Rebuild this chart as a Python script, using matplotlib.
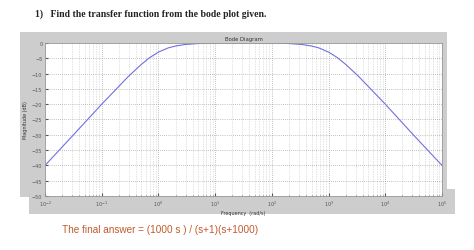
import numpy as np
import matplotlib
matplotlib.use("Agg")
import matplotlib.pyplot as plt
from matplotlib.patches import Rectangle
from matplotlib.ticker import FixedLocator, LogLocator, LogFormatterMathtext, NullFormatter

# values
freq = [0.01, 0.03, 0.1, 0.2, 0.3, 0.5, 0.7, 1, 1.5, 2, 3, 5, 10,
        100, 200, 333, 500, 667, 1000, 1430, 2000, 3330, 5000, 10000, 33000, 100000]
mag_db = [-40, -30.5, -20, -14.2, -10.8, -7, -4.8, -3, -1.6, -1, -0.5, -0.2, 0,
          0, -0.2, -0.5, -1, -1.6, -3, -4.8, -7, -10.8, -14.2, -20, -30.5, -40]
x_ticks = [1e-2, 1e-1, 1e0, 1e1, 1e2, 1e3, 1e4, 1e5]
y_ticks = [0, -5, -10, -15, -20, -25, -30, -35, -40, -45, -50]

fig = plt.figure(figsize=(4.74, 2.51), dpi=100)
fig.patch.set_facecolor("white")

gray = "#cdcdcd"
fig.patches.append(Rectangle((0.061, 0.143), 0.899, 0.10, transform=fig.transFigure,
                             facecolor=gray, edgecolor="none", zorder=-2))
fig.patches.append(Rectangle((0.042, 0.211), 0.901, 0.657, transform=fig.transFigure,
                             facecolor=gray, edgecolor="none", zorder=-2))

ax = fig.add_axes([0.095, 0.215, 0.8375, 0.61])
ax.set_zorder(1)
ax.plot(freq, mag_db, color="#7070e0", lw=0.8)
ax.set_xscale("log")
ax.set_xlim(1e-2, 1e5)
ax.set_ylim(-50, 0)
ax.set_yticks(y_ticks)
ax.xaxis.set_major_locator(FixedLocator(x_ticks))
ax.xaxis.set_minor_locator(LogLocator(base=10, subs=np.arange(2, 10), numticks=100))
ax.xaxis.set_major_formatter(LogFormatterMathtext())
ax.xaxis.set_minor_formatter(NullFormatter())
ax.grid(True, which="major", linestyle=(0, (1, 2)), color="#888888", lw=0.5)
ax.grid(True, which="minor", axis="x", linestyle=(0, (1, 2)), color="#aaaaaa", lw=0.4)
ax.tick_params(which="both", direction="in", labelsize=3.5, length=2, pad=2,
               colors="#555555")
ax.tick_params(which="minor", length=1)
for s in ax.spines.values():
    s.set_color("#999999")
    s.set_linewidth(0.6)

ax.set_title("Bode Diagram", fontsize=3.8, pad=2, color="#333333")
ax.set_xlabel("Frequency  (rad/s)", fontsize=3.5, labelpad=1, color="#333333")
ax.set_ylabel("Magnitude (dB)", fontsize=3.5, labelpad=3, color="#333333")

fig.text(0.074, 0.945, "1)   Find the transfer function from the bode plot given.",
         family="Liberation Serif", fontweight="bold", fontsize=7.0,
         va="center", ha="left", color="#222222")
fig.text(0.131, 0.084, "The final answer = (1000 s ) / (s+1)(s+1000)",
         family="Liberation Sans", fontsize=7.2, va="center", ha="left",
         color="#c05a2c")

fig.savefig("out.png", dpi=100, facecolor="white")
